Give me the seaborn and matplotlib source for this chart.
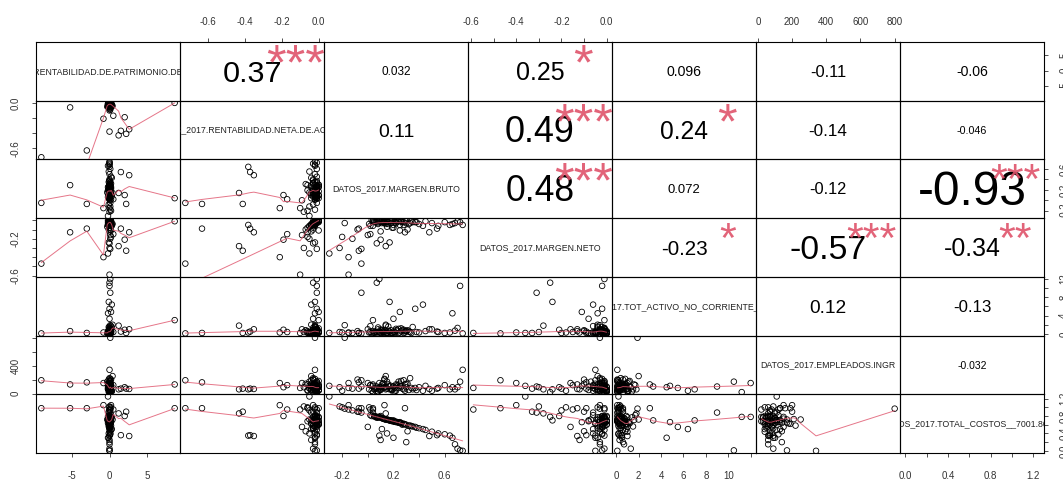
import numpy as np
import matplotlib
matplotlib.use("Agg")
import matplotlib.pyplot as plt
import seaborn as sns
from matplotlib.textpath import TextPath, TextToPath
from matplotlib.font_manager import FontProperties

# ---- data ----
rent_patrimonio = [-9.0, -5.2, -3.0, 8.6, 0.0, 1.5, 2.6, 1.2, 2.2, 0.5,
                   2.0, -0.8, 0.0, 0.1, 0.0, -0.2, 0.0, 0.1, -0.1, 0.2,
                   0.0, 0.3, -0.2, 0.1, 0.0, 0.0, 0.1, -0.1, 0.2, 0.0,
                   0.1, -0.1, 0.2, -0.2, 0.0, 0.3, -0.3, 0.1, 0.0, 0.2,
                   -0.1, 0.0, 0.1, -0.2, 0.4, 0.0, 0.1, -0.1, 0.0, 0.2,
                   0.0, -0.1, 0.1, 0.0, 0.0, 0.0, -0.1, 0.1, 0.0, 0.0,
                   0.2, -0.1, 0.0, 0.1, 0.0, 0.1, -0.1, 0.0, 0.2, -0.2,
                   0.0, 0.1, 0.0, -0.1, 0.0, 0.1, 0.0, -0.1, 0.0, 0.2,
                   0.0, 0.1, -0.1, 0.0, 0.0, 0.1, 0.0, -0.1, 0.0, 0.1,
                   0.0, 0.0, 0.1, -0.1, 0.0, 0.0]
rent_neta = [-0.72, -0.06, -0.63, 0.00, -0.38, -0.37, -0.35, -0.43, -0.41, -0.17,
             -0.19, -0.21, -0.02, -0.02, -0.01, -0.05, -0.03, -0.01, -0.02, 0.00,
             -0.01, -0.04, -0.02, -0.01, -0.03, -0.08, -0.05, -0.03, -0.06, -0.01,
             -0.02, -0.03, -0.01, -0.04, 0.00, -0.02, -0.05, -0.01, -0.03, -0.02,
             -0.01, -0.06, 0.00, -0.02, -0.04, -0.01, -0.07, -0.02, -0.03, -0.01,
             -0.02, -0.05, -0.01, -0.02, -0.03, -0.04, -0.02, -0.09, -0.10, -0.01,
             -0.03, -0.01, -0.02, 0.00, -0.01, -0.02, 0.00, -0.01, -0.02, -0.01,
             -0.03, -0.01, 0.00, -0.02, -0.01, -0.04, -0.02, -0.01, -0.02, -0.03,
             -0.01, -0.02, -0.01, 0.00, -0.03, -0.02, -0.01, -0.04, -0.02, -0.01,
             -0.03, -0.01, -0.02, -0.01, -0.02, -0.01]
margen_bruto = [-0.05, 0.29, -0.07, 0.04, 0.64, 0.54, 0.48, 0.14, -0.07, 0.02,
                0.10, -0.15, 0.74, -0.18, 0.72, -0.30, 0.07, -0.05, 0.17, 0.25,
                0.37, 0.43, 0.66, 0.09, 0.20, -0.22, -0.12, -0.08, -0.20, 0.05,
                0.12, 0.18, 0.22, 0.25, 0.30, 0.08, 0.15, 0.28, 0.33, 0.02,
                0.11, 0.19, 0.26, 0.06, 0.14, 0.21, 0.31, 0.35, 0.40, 0.45,
                0.50, 0.55, 0.60, 0.68, 0.70, 0.10, 0.20, 0.00, -0.15, 0.04,
                0.13, 0.27, 0.16, 0.09, 0.03, 0.07, 0.10, 0.13, 0.16, 0.19,
                0.22, 0.24, 0.17, 0.12, 0.08, 0.28, 0.05, 0.23, 0.14, 0.32,
                0.18, 0.21, 0.26, 0.29, 0.11, 0.15, 0.09, 0.04, 0.01, 0.34,
                0.38, 0.24, 0.13, 0.20, 0.30, 0.07]
margen_neto = [-0.47, -0.13, -0.09, -0.01, -0.05, -0.09, -0.13, -0.28, -0.33, -0.15,
               -0.21, -0.40, -0.05, -0.03, -0.02, -0.36, -0.25, -0.31, -0.24, -0.11,
               -0.02, -0.06, -0.04, -0.01, -0.08, -0.30, -0.20, -0.10, -0.18, -0.01,
               -0.02, -0.03, -0.01, -0.05, 0.00, -0.04, -0.07, -0.02, -0.03, -0.06,
               -0.01, -0.08, -0.01, -0.02, -0.04, 0.00, -0.10, -0.02, -0.04, -0.01,
               -0.03, -0.06, -0.02, -0.03, -0.01, -0.12, -0.05, -0.16, -0.59, -0.01,
               -0.03, -0.02, -0.04, 0.00, 0.00, -0.01, -0.02, -0.01, -0.02, 0.00,
               -0.03, -0.01, 0.00, -0.02, -0.03, -0.05, -0.02, -0.01, -0.02, -0.04,
               -0.01, -0.02, -0.01, 0.00, -0.03, -0.02, -0.01, -0.06, -0.04, -0.01,
               -0.02, -0.01, -0.02, 0.00, -0.03, -0.01]
activo_no_corriente = [0.1, 0.6, 0.2, 3.0, 0.3, 0.5, 1.0, 1.8, 0.2, 0.4,
                       0.9, 0.3, 0.1, 1.9, 10.5, 0.2, 11.2, 9.0, 7.0, 4.8,
                       5.5, 6.4, 4.5, 12.0, 3.3, 0.4, 0.2, 0.6, 0.3, 0.2,
                       0.5, 0.8, 1.1, 0.3, 0.6, 1.4, 0.1, 0.9, 0.4, 1.7,
                       0.7, 0.2, 1.2, 0.5, 2.0, 0.1, 0.8, 1.5, 0.3, 0.6,
                       1.0, 0.4, 0.2, 0.7, 1.3, 0.3, 0.5, 1.0, 0.2, 0.6,
                       0.1, 0.9, 1.6, 0.3, 0.1, 0.3, 0.2, 0.4, 0.6, 0.1,
                       0.8, 0.2, 0.5, 0.3, 1.0, 0.2, 0.4, 0.7, 0.1, 0.5,
                       0.2, 0.4, 0.6, 0.3, 0.9, 0.2, 0.5, 0.1, 0.3, 0.2,
                       0.4, 1.1, 0.8, 0.1, 0.6, 0.4]
empleados = [190, 130, 160, 130, 60, 70, 65, 60, 70, 120,
             90, 150, 340, 800, 170, 110, 20, 100, 60, 110,
             80, 40, 90, 150, 100, 90, 70, 200, 40, 60,
             80, 110, 40, 140, 90, 30, 170, 60, 220, 120,
             100, 50, 180, 70, 250, 30, 140, 60, 90, 110,
             40, 80, 120, 60, 90, 60, 100, 150, 80, 20,
             200, 70, 130, 50, 40, 70, 50, 90, 110, 60,
             130, 80, 100, 150, 30, 190, 70, 120, 90, 50,
             60, 80, 100, 40, 130, 70, 90, 110, 60, 80,
             50, 170, 210, 20, 140, 100]
total_costos = [0.98, 0.98, 0.98, 0.98, 0.35, 0.36, 0.34, 0.86, 0.90, 0.95,
                0.80, 1.05, 0.00, 0.97, 0.01, 1.25, 0.78, 0.88, 0.70, 0.66,
                0.55, 0.50, 0.30, 0.78, 0.70, 1.02, 0.93, 0.90, 1.00, 0.79,
                0.74, 0.70, 0.66, 0.64, 0.60, 0.77, 0.72, 0.62, 0.58, 0.82,
                0.75, 0.68, 0.63, 0.79, 0.72, 0.67, 0.45, 0.56, 0.52, 0.48,
                0.44, 0.40, 0.38, 0.15, 0.05, 0.25, 0.30, 0.55, 0.95, 0.95,
                1.05, 0.60, 0.71, 0.78, 0.80, 0.78, 0.76, 0.73, 0.71, 0.69,
                0.67, 0.65, 0.70, 0.74, 0.77, 0.62, 0.80, 0.66, 0.72, 0.58,
                0.69, 0.67, 0.64, 0.61, 0.50, 0.40, 0.35, 0.88, 1.00, 0.57,
                0.53, 0.65, 0.73, 0.68, 0.20, 0.76]

var_names = ["DATOS_2017.RENTABILIDAD.DE.PATRIMONIO.DE.ACCIONISTA",
             "DATOS_2017.RENTABILIDAD.NETA.DE.ACTIVOS",
             "DATOS_2017.MARGEN.BRUTO",
             "DATOS_2017.MARGEN.NETO",
             "DATOS_2017.TOT_ACTIVO_NO_CORRIENTE_VALORES",
             "DATOS_2017.EMPLEADOS.INGR",
             "DATOS_2017.TOTAL_COSTOS__7001.80000"]

# correlation labels of the upper panels, row by row
cor_row1 = ["0.37", "0.032", "0.25", "0.096", "-0.11", "-0.06"]
cor_row2 = ["0.11", "0.49", "0.24", "-0.14", "-0.046"]
cor_row3 = ["0.48", "0.072", "-0.12", "-0.93"]
cor_row4 = ["-0.23", "-0.57", "-0.34"]
cor_row5 = ["0.12", "-0.13"]
cor_row6 = ["-0.032"]
stars_row1 = ["***", "", "*", "", "", ""]
stars_row2 = ["", "***", "*", "", ""]
stars_row3 = ["***", "", "", "***"]
stars_row4 = ["*", "***", "**"]
stars_row5 = ["", ""]
stars_row6 = [""]

# axis ticks for each variable, and which of them get a label
ticks = [[-5, 0, 5],
         [-0.6, -0.4, -0.2, 0.0],
         [-0.2, 0.0, 0.2, 0.4, 0.6],
         [-0.6, -0.5, -0.4, -0.3, -0.2, -0.1, 0.0],
         [0, 2, 4, 6, 8, 10, 12],
         [0, 200, 400, 600, 800],
         [0.0, 0.2, 0.4, 0.6, 0.8, 1.0, 1.2]]
x_labels = [["-5", "0", "5"],
            ["-0.6", "-0.4", "-0.2", "0.0"],
            ["-0.2", "", "0.2", "", "0.6"],
            ["-0.6", "", "-0.4", "", "-0.2", "", "0.0"],
            ["0", "2", "4", "6", "8", "10", ""],
            ["0", "200", "400", "600", "800"],
            ["0.0", "", "0.4", "", "0.8", "", "1.2"]]
y_labels = [["-5", "0", "5"],
            ["-0.6", "", "", "0.0"],
            ["-0.2", "", "0.2", "", "0.6"],
            ["-0.6", "", "", "", "-0.2", "", ""],
            ["0", "", "4", "", "8", "", "12"],
            ["0", "", "400", "", ""],
            ["0.0", "", "0.4", "", "0.8", "", "1.2"]]


def lowess(x, y, f=2 / 3, iters=3):
    order = np.argsort(x, kind="mergesort")
    x = np.asarray(x, float)[order]
    y = np.asarray(y, float)[order]
    n = len(x)
    r = int(np.ceil(f * n))
    yest = np.zeros(n)
    delta = np.ones(n)
    for _ in range(iters + 1):
        for i in range(n):
            d = np.abs(x - x[i])
            h = np.sort(d)[r - 1]
            if h <= 0:
                w = (d == 0).astype(float)
            else:
                u = np.clip(d / h, 0, 1)
                w = (1 - u ** 3) ** 3
            w = w * delta
            sw = w.sum()
            if sw <= 0:
                yest[i] = y[i]
                continue
            xm = (w * x).sum() / sw
            ym = (w * y).sum() / sw
            sxx = (w * (x - xm) ** 2).sum()
            b = (w * (x - xm) * (y - ym)).sum() / sxx if sxx > 1e-12 else 0.0
            yest[i] = ym + b * (x[i] - xm)
        res = y - yest
        s = np.median(np.abs(res))
        if s <= 0:
            break
        u = np.clip(res / (6 * s), -1, 1)
        delta = (1 - u ** 2) ** 2
    return x, yest


sns.set_style("white")
plt.rcParams["font.family"] = ["Liberation Sans", "DejaVu Sans"]
plt.rcParams["axes.unicode_minus"] = False

data = [np.array(v, float) for v in [rent_patrimonio, rent_neta, margen_bruto, margen_neto,
                                     activo_no_corriente, empleados, total_costos]]
cors = [cor_row1, cor_row2, cor_row3, cor_row4, cor_row5, cor_row6]
stars = [stars_row1, stars_row2, stars_row3, stars_row4, stars_row5, stars_row6]
k = len(data)
lims = []
for v in data:
    rng = v.max() - v.min()
    lims.append((v.min() - 0.04 * rng, v.max() + 0.04 * rng))

W, H = 1063, 480
fig, axes = plt.subplots(k, k, figsize=(W / 100, H / 100), dpi=100,
                         gridspec_kw=dict(left=36 / W, right=1044 / W, top=1 - 42 / H,
                                          bottom=1 - 453 / H, wspace=0, hspace=0))

fp = FontProperties(family="Liberation Sans")
fp10 = FontProperties(family="Liberation Sans", size=10)
ttp = TextToPath()


def ink_mid(txt, size):
    b = TextPath((0, 0), txt, size=size, prop=fp).get_extents()
    return (b.y0 + b.y1) / 2


tick_col = "#333333"
for i in range(k):
    for j in range(k):
        ax = axes[i, j]
        ax.set_facecolor("none")
        if i > j:
            sns.scatterplot(x=data[j], y=data[i], ax=ax, s=16, marker="o",
                            facecolor="none", edgecolor="black", linewidth=0.6,
                            legend=False, zorder=2)
            lx, ly = lowess(data[j], data[i])
            sns.lineplot(x=lx, y=ly, ax=ax, color="#DF536B", lw=0.7, alpha=0.8,
                         sort=False, estimator=None, zorder=3)
        elif i == j:
            ax.text(0.5, 0.5, var_names[i], transform=ax.transAxes, ha="center",
                    va="center", fontsize=6.3, color="#222222", clip_on=True)
        else:
            txt = cors[i][j - i - 1]
            r = float(txt)
            w_pt = ax.get_position().width * W / 100 * 72
            w10 = ttp.get_text_width_height_descent(txt, fp10, ismath=False)[0]
            base = 10 * 0.8 * w_pt / w10
            fs = base * (abs(r) + 0.3) / 1.3
            ax.annotate(txt, xy=(0.5, 0.5), xycoords="axes fraction",
                        xytext=(0, -ink_mid(txt, fs)), textcoords="offset points",
                        ha="center", va="baseline", fontsize=fs, color="black", zorder=5)
            st = stars[i][j - i - 1]
            if st:
                sfs = base * 0.85
                ax.annotate(st, xy=(0.8, 0.8), xycoords="axes fraction",
                            xytext=(0, -ink_mid(st, sfs)), textcoords="offset points",
                            ha="center", va="baseline", fontsize=sfs, color="#DF536B",
                            alpha=0.9, zorder=6)
        ax.set_xlim(lims[j])
        ax.set_ylim(lims[i])
        ax.set_xlabel("")
        ax.set_ylabel("")
        ax.set_xticks([])
        ax.set_yticks([])
        for sp in ax.spines.values():
            sp.set_visible(True)
            sp.set_linewidth(0.8)
            sp.set_color("black")

        if i == 0 and j % 2 == 1:
            ax.set_xticks(ticks[j])
            ax.set_xticklabels(x_labels[j])
            ax.tick_params(axis="x", top=True, bottom=False, labeltop=True, labelbottom=False,
                           length=3, width=0.6, pad=8, labelsize=7, colors=tick_col)
        if i == k - 1 and j % 2 == 0:
            ax.set_xticks(ticks[j])
            ax.set_xticklabels(x_labels[j])
            ax.tick_params(axis="x", bottom=True, labelbottom=True, length=3, width=0.6,
                           pad=10, labelsize=7, colors=tick_col)
        if j == 0 and i % 2 == 1:
            ax.set_yticks(ticks[i])
            ax.set_yticklabels(y_labels[i], rotation=90, va="center")
            ax.tick_params(axis="y", left=True, labelleft=True, length=3, width=0.6,
                           pad=8, labelsize=7, colors=tick_col)
        if j == k - 1 and i % 2 == 0:
            ax.set_yticks(ticks[i])
            ax.set_yticklabels(y_labels[i], rotation=90, va="center")
            ax.tick_params(axis="y", left=False, right=True, labelleft=False, labelright=True,
                           length=3, width=0.6, pad=8, labelsize=7, colors=tick_col)

plt.savefig("out.png", dpi=100)
